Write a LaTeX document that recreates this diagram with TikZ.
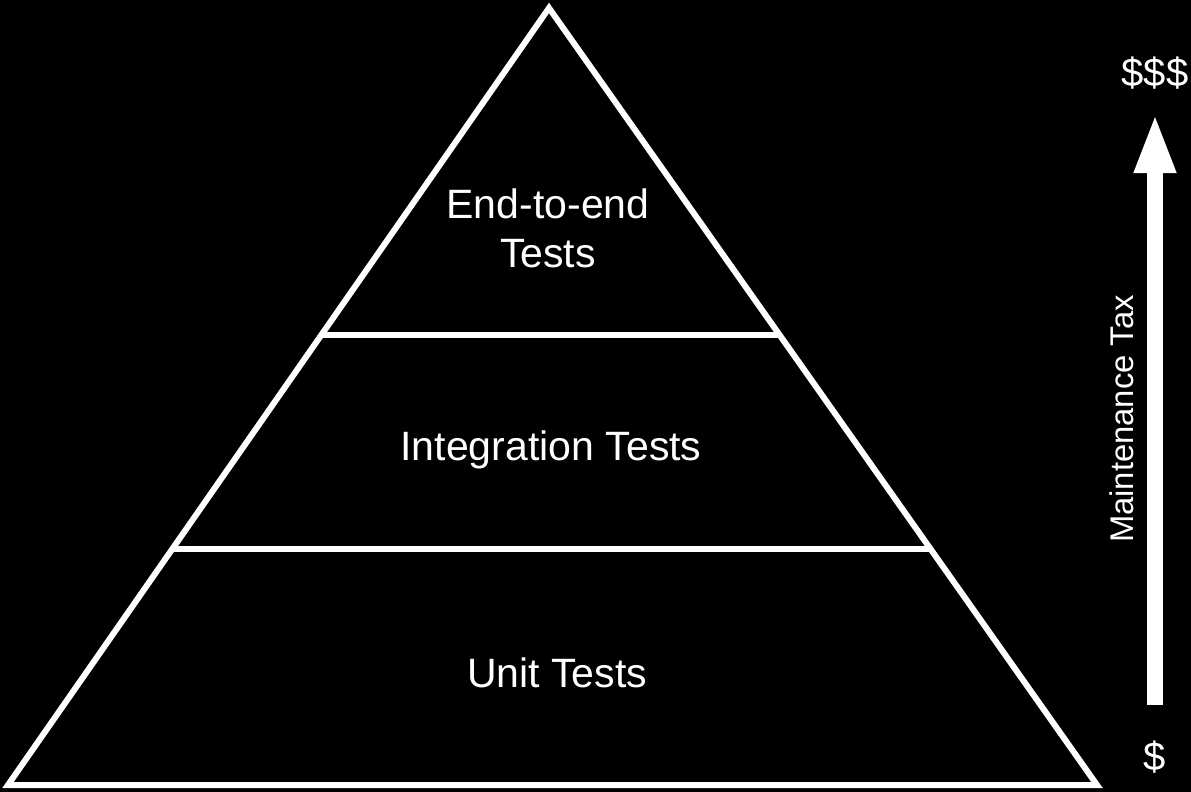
\documentclass[tikz,border=0pt]{standalone}
\usepackage{fontspec}
\setmainfont{Liberation Sans}
\usetikzlibrary{arrows.meta,calc}
\begin{document}
\begin{tikzpicture}[x=1bp,y=-1bp,
  edge/.style={draw=white,line width=6bp},
  lbl/.style={text=white,font=\fontsize{41bp}{49bp}\selectfont,align=center,inner sep=0pt},
  side/.style={text=white,font=\fontsize{40bp}{48bp}\selectfont,inner sep=0pt},
  axis/.style={text=white,font=\fontsize{32.8bp}{38bp}\selectfont,inner sep=0pt}]
\fill[black] (0,0) rectangle (1191,792);
\useasboundingbox (0,0) rectangle (1191,792);
\coordinate (A) at (549,8);
\coordinate (BL) at (8,785);
\coordinate (BR) at (1097,785);
\draw[edge] (A) -- (BL) -- (BR) -- cycle;
\coordinate (L1) at ($(BL)!0.5792!(A)$);
\coordinate (R1) at ($(BR)!0.5792!(A)$);
\coordinate (L2) at ($(BL)!0.3037!(A)$);
\coordinate (R2) at ($(BR)!0.3037!(A)$);
\draw[edge] (L1) -- (R1);
\draw[edge] (L2) -- (R2);
\node[lbl] (e2e) at (548,228) {End-to-end\\Tests};
\node[lbl] (integ) at (551,450) {Integration Tests};
\node[lbl] (unit) at (557,673) {Unit Tests};
\coordinate (abot) at (1155,705);
\coordinate (atop) at (1155,113);
\draw[white,line width=16bp,-{Triangle[length=60bp,width=38bp]}] (abot) -- (atop);
\node[side] (hi) at (1155,73) {\$\$\$};
\node[side] (lo) at (1155,757) {\$};
\node[axis,rotate=90] (tax) at (1122,419) {Maintenance Tax};
\end{tikzpicture}
\end{document}
